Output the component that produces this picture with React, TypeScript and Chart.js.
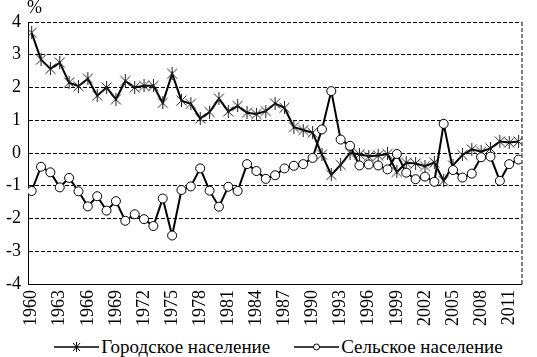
import React, { useEffect, useRef } from "react";
import { Chart, registerables } from "chart.js";

Chart.register(...registerables);

const years = [
  1960, 1961, 1962, 1963, 1964, 1965, 1966, 1967, 1968, 1969,
  1970, 1971, 1972, 1973, 1974, 1975, 1976, 1977, 1978, 1979,
  1980, 1981, 1982, 1983, 1984, 1985, 1986, 1987, 1988, 1989,
  1990, 1991, 1992, 1993, 1994, 1995, 1996, 1997, 1998, 1999,
  2000, 2001, 2002, 2003, 2004, 2005, 2006, 2007, 2008, 2009,
  2010, 2011, 2012,
];

const urban = [
  3.67, 2.85, 2.57, 2.76, 2.15, 2.04, 2.27, 1.75, 2.0, 1.64,
  2.2, 2.0, 2.05, 2.05, 1.53, 2.42, 1.6, 1.5, 1.05, 1.25,
  1.66, 1.27, 1.44, 1.23, 1.19, 1.28, 1.51, 1.38, 0.79, 0.7,
  0.62, -0.05, -0.67, -0.36, 0.0, -0.04, -0.1, -0.08, -0.03, -0.58,
  -0.3, -0.32, -0.4, -0.29, -0.85, -0.38, -0.06, 0.11, 0.04, 0.14,
  0.35, 0.32, 0.35,
];

const rural = [
  -1.16, -0.42, -0.59, -1.05, -0.76, -1.17, -1.63, -1.32, -1.76, -1.47,
  -2.07, -1.87, -2.02, -2.23, -1.39, -2.52, -1.13, -1.02, -0.47, -1.15,
  -1.64, -1.03, -1.16, -0.34, -0.55, -0.79, -0.68, -0.47, -0.39, -0.34,
  -0.15, 0.72, 1.89, 0.41, 0.22, -0.38, -0.35, -0.38, -0.5, -0.03,
  -0.6, -0.8, -0.72, -0.88, 0.89, -0.52, -0.75, -0.63, -0.13, -0.11,
  -0.85, -0.34, -0.2,
];

const tickYears = [
  1960, 1963, 1966, 1969, 1972, 1975, 1978, 1981, 1984, 1987,
  1990, 1993, 1996, 1999, 2002, 2005, 2008, 2011,
];

const seriesNames = ["Городское население", "Сельское население"];
const unitLabel = "%";

const FONT = '"Liberation Serif", "Times New Roman", serif';

function makeAsterisk(): HTMLCanvasElement {
  const c = document.createElement("canvas");
  c.width = 13;
  c.height = 13;
  const ctx = c.getContext("2d")!;
  ctx.strokeStyle = "#222";
  ctx.lineWidth = 1;
  ctx.beginPath();
  ctx.moveTo(1.5, 1.5);
  ctx.lineTo(11.5, 11.5);
  ctx.moveTo(11.5, 1.5);
  ctx.lineTo(1.5, 11.5);
  ctx.moveTo(6.5, 0);
  ctx.lineTo(6.5, 13);
  ctx.stroke();
  return c;
}

const rightBorderPlugin = {
  id: "rightBorder",
  afterDraw(chart: any) {
    const { ctx, chartArea } = chart;
    ctx.save();
    ctx.strokeStyle = "#000";
    ctx.lineWidth = 1;
    ctx.setLineDash([4, 2]);
    ctx.beginPath();
    ctx.moveTo(chartArea.right + 0.5, chartArea.top);
    ctx.lineTo(chartArea.right + 0.5, chartArea.bottom);
    ctx.stroke();
    ctx.restore();
  },
};

export default function App() {
  const ref = useRef<HTMLCanvasElement | null>(null);

  useEffect(() => {
    if (!ref.current) return;
    const star = makeAsterisk();
    const chart = new Chart(ref.current, {
      type: "line",
      data: {
        datasets: [
          {
            label: seriesNames[0],
            data: years.map((y, i) => ({ x: y, y: urban[i] })),
            borderColor: "#000",
            borderWidth: 2,
            pointStyle: star as any,
            pointRadius: 5,
            tension: 0,
            order: 2,
          },
          {
            label: seriesNames[1],
            data: years.map((y, i) => ({ x: y, y: rural[i] })),
            borderColor: "#000",
            borderWidth: 2,
            pointStyle: "circle",
            pointRadius: 4.5,
            pointBorderWidth: 1,
            pointBorderColor: "#000",
            pointBackgroundColor: "#fff",
            tension: 0,
            order: 1,
          },
        ],
      },
      options: {
        animation: false,
        responsive: false,
        maintainAspectRatio: false,
        layout: { padding: { top: 22, right: 3, left: 0, bottom: 0 } },
        plugins: {
          legend: { display: false },
          tooltip: { enabled: false },
        },
        scales: {
          x: {
            type: "linear",
            min: 1959.61,
            max: 2012.31,
            afterBuildTicks(scale: any) {
              scale.ticks = tickYears.map((v) => ({ value: v }));
            },
            afterFit(scale: any) {
              scale.height = 50;
            },
            grid: { display: false, drawTicks: false },
            border: { display: true, color: "#000", width: 1 },
            ticks: {
              autoSkip: false,
              minRotation: 90,
              maxRotation: 90,
              padding: 6,
              color: "#000",
              font: { family: FONT, size: 18 },
              callback: (v: any) => String(v),
            },
          },
          y: {
            min: -4,
            max: 4,
            afterFit(scale: any) {
              scale.width = 28;
            },
            grid: { color: "#000", lineWidth: 1, drawTicks: false },
            border: { display: true, color: "#000", width: 1, dash: [4, 2] },
            ticks: {
              stepSize: 1,
              padding: 7,
              color: "#000",
              font: { family: FONT, size: 18 },
            },
          },
        },
      },
      plugins: [rightBorderPlugin],
    });
    return () => chart.destroy();
  }, []);

  return (
    <div
      style={{
        position: "absolute",
        left: 0,
        top: 0,
        width: 537,
        height: 357,
        background: "#fff",
        fontFamily: FONT,
      }}
    >
      <canvas
        ref={ref}
        width={537}
        height={334}
        style={{ position: "absolute", left: 0, top: 0, width: 537, height: 334 }}
      />
      <span
        style={{
          position: "absolute",
          left: 27,
          top: -3,
          fontSize: 18,
          color: "#000",
        }}
      >
        {unitLabel}
      </span>
      <div
        style={{
          position: "absolute",
          left: 10,
          top: 336,
          width: 537,
          height: 22,
          display: "flex",
          justifyContent: "center",
          alignItems: "center",
          gap: 24,
          fontSize: 19,
          color: "#000",
          whiteSpace: "nowrap",
        }}
      >
        <div style={{ display: "flex", alignItems: "center" }}>
          <svg width={45} height={12} style={{ marginRight: 2 }}>
            <line x1={0} y1={6} x2={45} y2={6} stroke="#000" strokeWidth={1.5} />
            <line x1={19} y1={2} x2={26} y2={10} stroke="#000" strokeWidth={1} />
            <line x1={26} y1={2} x2={19} y2={10} stroke="#000" strokeWidth={1} />
            <line x1={22.5} y1={1} x2={22.5} y2={11} stroke="#000" strokeWidth={1} />
          </svg>
          <span>{seriesNames[0]}</span>
        </div>
        <div style={{ display: "flex", alignItems: "center" }}>
          <svg width={45} height={12} style={{ marginRight: 2 }}>
            <line x1={0} y1={6} x2={45} y2={6} stroke="#000" strokeWidth={1.5} />
            <circle cx={22.5} cy={6} r={3} fill="#fff" stroke="#000" strokeWidth={1} />
          </svg>
          <span>{seriesNames[1]}</span>
        </div>
      </div>
    </div>
  );
}
